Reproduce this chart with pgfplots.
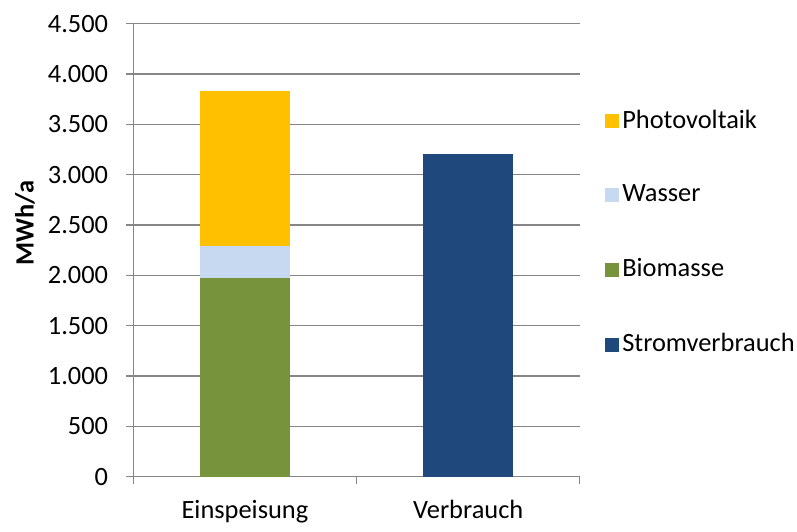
\documentclass[border=0pt]{standalone}
\usepackage{fontspec}
\setmainfont{Carlito}
\usepackage{pgfplots}
\pgfplotsset{compat=1.18}
\definecolor{pvorange}{HTML}{FFC000}
\definecolor{wasserblue}{HTML}{C6D9F1}
\definecolor{biogreen}{HTML}{77933C}
\definecolor{stromblue}{HTML}{1F497D}
\definecolor{gridgray}{HTML}{868686}

\begin{document}
\fontsize{13.2}{15}\selectfont
\begin{tikzpicture}
\begin{axis}[
  ybar stacked,
  scale only axis,
  width=223.3pt, height=226.5pt,
  bar width=45pt,
  xmin=-0.5, xmax=1.5,
  ymin=0, ymax=4500,
  ytick={0,500,...,4500},
  xtick={-0.5,0.5,1.5},
  xticklabels={},
  extra x ticks={0,1},
  extra x tick labels={Einspeisung,Verbrauch},
  extra x tick style={major tick length=0pt, grid=none},
  tick align=outside,
  major tick length=3.5pt,
  tick style={gridgray, line width=0.6pt},
  ymajorgrids,
  grid style={gridgray, line width=0.6pt},
  axis x line*=bottom,
  axis y line*=left,
  axis line style={gridgray, line width=0.6pt, -},
  /pgf/number format/.cd, 1000 sep={.}, assume math mode=true,
  /pgfplots/.cd,
  yticklabel style={xshift=-4.5pt},
  xticklabel style={yshift=-7pt},
  ylabel={\bfseries MWh/a},
  ylabel style={at={(axis description cs:-0.2425,0.56)}, anchor=center},
  every axis plot/.append style={draw=none},
  legend style={draw=none, fill=none, at={(1.056,0.5386)}, anchor=west,
    inner sep=0pt, row sep=23.4pt, font=\fontsize{13.2}{15}\selectfont,
    nodes={inner sep=1.5pt}},
  legend cell align=left,
  legend image code/.code={\fill[#1] (0pt,-3.5pt) rectangle (7pt,3.5pt);},
]
% legend entries in Excel order
\addlegendimage{fill=pvorange, draw=none}
\addlegendimage{fill=wasserblue, draw=none}
\addlegendimage{fill=biogreen, draw=none}
\addlegendimage{fill=stromblue, draw=none}
\legend{Photovoltaik,Wasser,Biomasse,Stromverbrauch}

\addplot[fill=biogreen] coordinates {(0,1970) (1,0)};
\addplot[fill=wasserblue] coordinates {(0,320) (1,0)};
\addplot[fill=pvorange] coordinates {(0,1545) (1,0)};
\addplot[fill=stromblue] coordinates {(0,0) (1,3210)};
\end{axis}
\pgfresetboundingbox
\path (current axis.south west) ++(-66.65pt,-27.15pt) rectangle ++(398.5pt,265.5pt);
\end{tikzpicture}
\end{document}
